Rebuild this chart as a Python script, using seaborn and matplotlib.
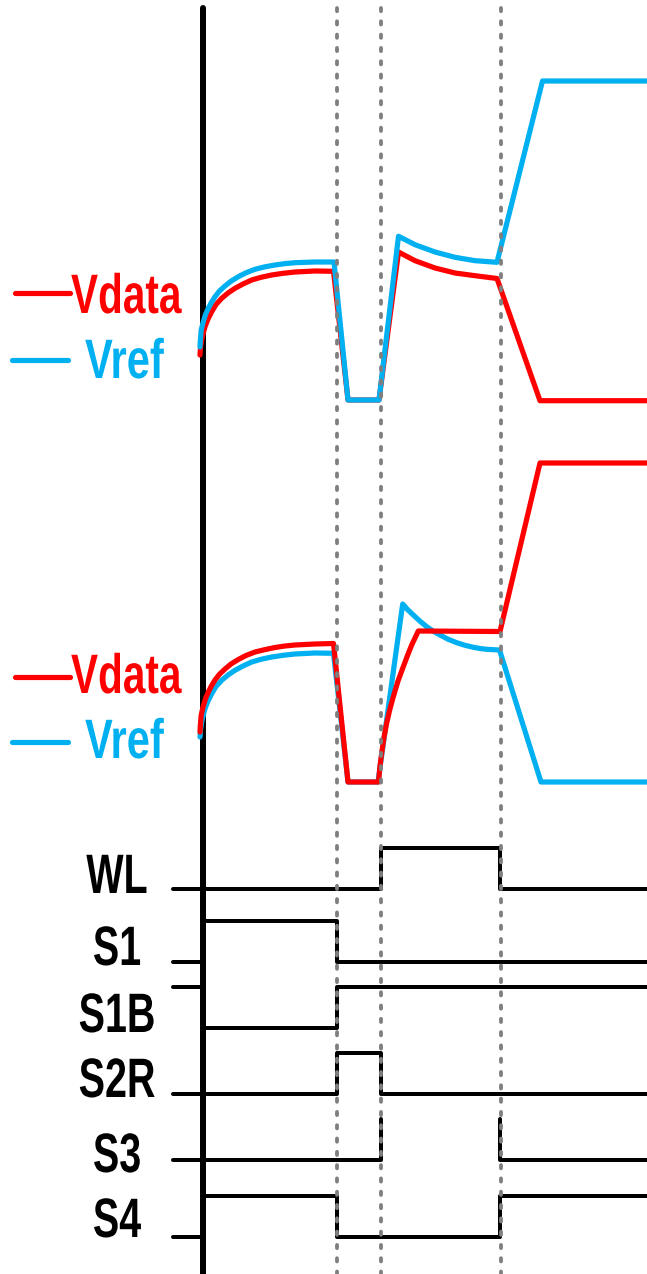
import numpy as np
import pandas as pd
import matplotlib
matplotlib.use("Agg")
import matplotlib.pyplot as plt
from matplotlib.patheffects import AbstractPathEffect
from matplotlib.transforms import Affine2D
import seaborn as sns

# ---------------- data (time / level units) ----------------
# upper panel
vdata1_t = [200, 200.6, 201.7, 203.3, 205, 208, 211.7, 216, 221.7, 228, 235, 243, 251.7, 261, 271.7, 283, 295, 315, 333.5, 348, 379, 398.5, 415, 435, 455, 475, 497, 540, 647]
vdata1_v = [355, 347, 340, 333, 326.7, 319, 311.7, 304.5, 298.3, 293, 288.3, 284, 280, 277.3, 275, 273.3, 272, 271, 271.3, 400, 400, 252, 260.7, 268, 273, 275.7, 278.5, 400.7, 400.7]
vref1_t = [200, 200.3, 201.2, 203.3, 205.5, 208.3, 211.5, 215, 219.5, 225, 231, 238.3, 246, 255, 265, 275, 285, 295, 315, 334, 348, 379, 398.5, 415, 435, 455, 475, 497, 542.5, 647]
vref1_v = [347, 341, 330, 321.7, 314.5, 308.3, 302.3, 296.7, 291, 286, 281.2, 276.7, 272.8, 269.3, 266.8, 265, 263.6, 262.7, 262, 262, 400, 400, 236.3, 244.7, 252, 257.3, 260.7, 262.3, 81, 81]

# lower panel
vdata2_t = [200, 200.3, 201.2, 203.3, 205.5, 208.3, 211.5, 215, 219.5, 225, 231, 238.3, 246, 255, 265, 275, 285, 295, 315, 333.5, 348, 378.5, 380, 381.7, 384, 386.7, 389.8, 393.3, 398, 403.3, 407.5, 411.7, 418.3, 500, 540, 647]
vdata2_v = [732, 726, 715, 706, 698.5, 692, 685.8, 680, 674.2, 669, 664, 659.5, 655.5, 652, 649.6, 647.5, 646, 645, 644, 643.5, 782, 782, 766, 753, 737.5, 723, 709.5, 696.7, 681, 666.7, 655.5, 645, 631, 631.5, 463, 463]
vref2_t = [200, 200.6, 201.7, 203.3, 205, 208, 211.7, 216, 221.7, 228, 235, 243, 251.7, 261, 271.7, 283, 295, 315, 333.5, 348, 378, 402.7, 407.5, 413.3, 420, 426.7, 433, 440, 448, 456.7, 465, 473.3, 480, 486.7, 499.5, 541, 647]
vref2_v = [737, 729, 722, 715, 708.7, 701, 693.7, 686.5, 680.3, 675, 670.3, 666, 662, 659.3, 657, 655.3, 654, 653, 653.3, 782, 782, 604, 609.5, 615, 621.2, 626.7, 631, 635, 639.2, 642.7, 645.3, 647.3, 648.5, 649.3, 650, 782, 782]

# digital control signals: names, edge times, logic levels
sig_names = ["WL", "S1", "S1B", "S2R", "S3", "S4"]
sig_times = [
    [[173, 381, 381, 500, 500, 647]],
    [[173, 203, 203, 337, 337, 647]],
    [[173, 203, 203, 337, 337, 647]],
    [[173, 337, 337, 381, 381, 647]],
    [[173, 381, 381], [500, 500, 647]],
    [[173, 203, 203, 337, 337, 500, 500, 647]],
]
sig_levels = [
    [[0, 0, 1, 1, 0, 0]],
    [[0, 0, 1, 1, 0, 0]],
    [[1, 1, 0, 0, 1, 1]],
    [[0, 0, 1, 1, 0, 0]],
    [[0, 0, 1], [1, 0, 0]],
    [[0, 0, 1, 1, 0, 0, 1, 1]],
]
phase_edges = [337, 381, 500.7]

# ---------------- layout ----------------
sig_low = [889, 962, 1028, 1094, 1160, 1237]
sig_amp = 41
label_x = 117
label_base = [893, 965, 1032, 1097, 1172, 1237]

RED = "#FF0000"
BLUE = "#00B0F0"
GREY = "#7F7F7F"


class HSqueeze(AbstractPathEffect):
    """Condense glyphs horizontally around an anchor (narrow bold look)."""
    def __init__(self, sx, cx):
        super().__init__()
        self.sx = sx
        self.cx = cx

    def draw_path(self, renderer, gc, tpath, affine, rgbFace=None):
        t = affine + Affine2D().translate(-self.cx, 0).scale(self.sx, 1).translate(self.cx, 0)
        renderer.draw_path(gc, tpath, t, rgbFace)


sns.set_theme(style="white")
plt.rcParams["font.family"] = ["Liberation Sans", "DejaVu Sans"]

fig = plt.figure(figsize=(6.47, 12.74), dpi=100)
ax = fig.add_axes([0, 0, 1, 1])
ax.set_xlim(0, 647)
ax.set_ylim(1274, 0)
ax.axis("off")

px = 72 / 100  # points per pixel
cw = 5.2 * px
dw = 4.0 * px


def narrow_text(x, y, s, color, ha, sx):
    cx = ax.transData.transform((x, y))[0]
    ax.text(x, y, s, ha=ha, va="baseline", fontsize=40, fontweight="bold",
            color=color, path_effects=[HSqueeze(sx, cx)])


line_kw = dict(sort=False, estimator=None, ax=ax, legend=False,
               solid_capstyle="round", solid_joinstyle="round")

# time axis (vertical black line)
sns.lineplot(x=[203, 203], y=[8, 1274], color="black", linewidth=6 * px, zorder=2, **line_kw)

# digital signals
for name, tl, ll, low in zip(sig_names, sig_times, sig_levels, sig_low):
    for t, l in zip(tl, ll):
        y = [low - sig_amp * v for v in l]
        sns.lineplot(x=t, y=y, color="black", linewidth=dw, zorder=3, **line_kw)

for name, yb in zip(sig_names, label_base):
    narrow_text(label_x, yb, name, "black", "center", 0.71)

# analog waveforms
sns.lineplot(x=vdata1_t, y=vdata1_v, color=RED, linewidth=cw, zorder=4, **line_kw)
sns.lineplot(x=vref1_t, y=vref1_v, color=BLUE, linewidth=cw, zorder=5, **line_kw)
sns.lineplot(x=vref2_t, y=vref2_v, color=BLUE, linewidth=cw, zorder=4, **line_kw)
sns.lineplot(x=vdata2_t, y=vdata2_v, color=RED, linewidth=cw, zorder=5, **line_kw)

# phase boundaries
for xe in phase_edges:
    ax.plot([xe, xe], [8, 1274], color=GREY, linewidth=3.8 * px,
            dashes=(0.85, 2.65), dash_capstyle="round", zorder=6)

# legends (two copies)
for yline_d, ybase_d, yline_r, ybase_r in [(293, 313, 360, 378), (677, 693, 742, 758)]:
    sns.lineplot(x=[15, 70], y=[yline_d, yline_d], color=RED, linewidth=cw, zorder=4, **line_kw)
    sns.lineplot(x=[12, 68], y=[yline_r, yline_r], color=BLUE, linewidth=cw, zorder=4, **line_kw)
    narrow_text(71, ybase_d, "Vdata", RED, "left", 0.73)
    narrow_text(85, ybase_r, "Vref", BLUE, "left", 0.75)

fig.savefig("out.png", dpi=100)
